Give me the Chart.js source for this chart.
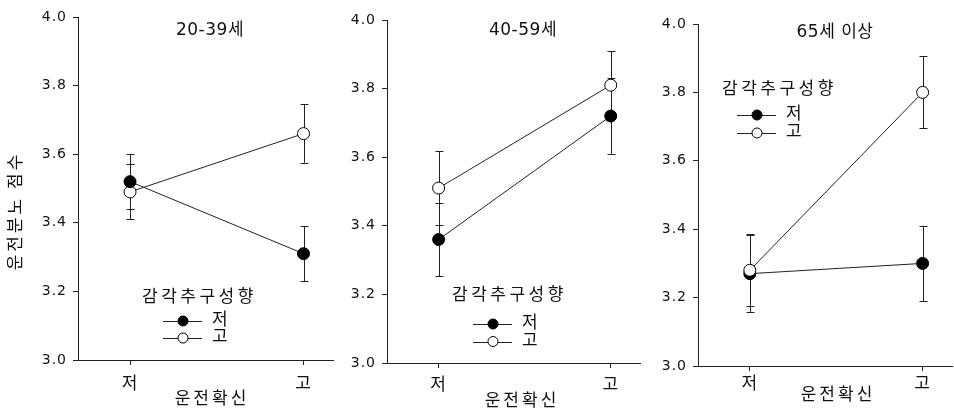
<!DOCTYPE html>
<html lang="ko">
<head>
  <meta charset="UTF-8" />
  <title>운전분노 점수</title>
  <script src="https://cdn.jsdelivr.net/npm/chart.js"></script>
  <style>
    body {
      margin: 0;
      background: #fff;
      overflow: hidden;
    }
    .wrap {
      position: relative;
      width: 954px;
      height: 412px;
    }
    canvas {
      position: absolute;
      top: 0;
    }
    #p1 { left: 0; }
    #p2 { left: 335px; }
    #p3 { left: 645px; }
  </style>
</head>
<body>
  <div class="wrap">
    <canvas id="p1" width="340" height="412"></canvas>
    <canvas id="p2" width="312" height="412"></canvas>
    <canvas id="p3" width="314" height="412"></canvas>
  </div>
  <script>
    // data
    const categories = ['저', '고'];            // 운전확신
    const ageGroups = ['20-39세', '40-59세', '65세 이상'];
    const seriesNames = ['저', '고'];           // 감각추구성향
    const lowMeans = [[3.52, 3.31], [3.36, 3.72], [3.27, 3.30]];
    const lowErrors = [[0.08, 0.08], [0.107, 0.11], [0.112, 0.11]];
    const highMeans = [[3.49, 3.66], [3.51, 3.81], [3.28, 3.80]];
    const highErrors = [[0.08, 0.085], [0.107, 0.10], [0.105, 0.105]];
    const yTicks = [3.0, 3.2, 3.4, 3.6, 3.8, 4.0];
    const yTitle = '운전분노 점수';
    const xTitle = '운전확신';
    const legendTitle = '감각추구성향';

    const KR = "'Noto Sans CJK KR', sans-serif";
    const NUM = "'DejaVu Sans', 'Noto Sans CJK KR', sans-serif";
    const INK = '#111';

    // layout of each panel (canvas coordinates)
    const panels = [
      { axisW: 78, top: 17, bottomH: 52, tickPad: 7, title: [210, 31], xTitle: [212, 398], yTitle: [15, 211],
        legend: { x: 142, y: 296, lineX: 163, rows: [321, 338] }, highOnTop: false },
      { axisW: 52, top: 20, bottomH: 49, tickPad: 5, title: [188, 31], xTitle: [187, 400], yTitle: null,
        legend: { x: 117, y: 294, lineX: 138, rows: [324, 341.5] }, highOnTop: false },
      { axisW: 53, top: 24, bottomH: 46, tickPad: 1, title: [190, 33], xTitle: [193, 394], yTitle: null,
        legend: { x: 77, y: 88, lineX: 92, rows: [115, 133] }, highOnTop: true }
    ];

    function spacedText(ctx, text, x, y, font, spacing, align) {
      ctx.save();
      ctx.font = font;
      ctx.letterSpacing = spacing + 'px';
      ctx.fillStyle = INK;
      ctx.textBaseline = 'middle';
      ctx.textAlign = align || 'left';
      ctx.fillText(text, x, y);
      ctx.restore();
    }

    const errorBars = {
      id: 'errorBars',
      beforeDatasetsDraw(chart) {
        const ctx = chart.ctx;
        const xs = chart.scales.x, ys = chart.scales.y;
        ctx.save();
        ctx.strokeStyle = '#222';
        ctx.lineWidth = 1;
        chart.data.datasets.forEach(ds => {
          ds.data.forEach((p, i) => {
            const err = ds.errors[i];
            const x = Math.round(xs.getPixelForValue(p.x)) + 0.5;
            const y0 = ys.getPixelForValue(p.y - err);
            const y1 = ys.getPixelForValue(p.y + err);
            ctx.beginPath();
            ctx.moveTo(x, y0); ctx.lineTo(x, y1);
            ctx.moveTo(x - 4, Math.round(y0) + 0.5); ctx.lineTo(x + 4, Math.round(y0) + 0.5);
            ctx.moveTo(x - 4, Math.round(y1) + 0.5); ctx.lineTo(x + 4, Math.round(y1) + 0.5);
            ctx.stroke();
          });
        });
        ctx.restore();
      }
    };

    const labels = {
      id: 'labels',
      beforeDraw(chart) {
        chart.ctx.letterSpacing = '1px';
      },
      afterDatasetsDraw(chart, args, opts) {
        const ctx = chart.ctx;
        const p = opts.panel;
        spacedText(ctx, opts.heading, p.title[0], p.title[1], '17px ' + NUM, 0.5, 'center');
        spacedText(ctx, xTitle, p.xTitle[0], p.xTitle[1], '17px ' + KR, 3, 'center');
        if (p.yTitle) {
          ctx.save();
          ctx.translate(p.yTitle[0], p.yTitle[1]);
          ctx.rotate(-Math.PI / 2);
          spacedText(ctx, yTitle, 0, 0, '17px ' + KR, 3, 'center');
          ctx.restore();
        }
        // legend, styled from the datasets
        const lg = p.legend;
        spacedText(ctx, legendTitle, lg.x, lg.y, '17px ' + KR, 3.5, 'left');
        chart.data.datasets.forEach((ds, i) => {
          const y = lg.rows[i];
          ctx.save();
          ctx.strokeStyle = ds.borderColor;
          ctx.lineWidth = 1;
          ctx.beginPath();
          ctx.moveTo(lg.lineX, Math.round(y) + 0.5);
          ctx.lineTo(lg.lineX + 39, Math.round(y) + 0.5);
          ctx.stroke();
          ctx.beginPath();
          ctx.arc(lg.lineX + 20, y, 5, 0, Math.PI * 2);
          ctx.fillStyle = ds.pointBackgroundColor;
          ctx.fill();
          ctx.strokeStyle = ds.pointBorderColor;
          ctx.stroke();
          ctx.restore();
          spacedText(ctx, ds.label, lg.lineX + 49, y - 2, '17px ' + KR, 0, 'left');
        });
      }
    };

    panels.forEach((p, g) => {
      const series = [
        { label: seriesNames[0], means: lowMeans[g], errors: lowErrors[g], fill: '#000' },
        { label: seriesNames[1], means: highMeans[g], errors: highErrors[g], fill: '#fff' }
      ];
      new Chart(document.getElementById('p' + (g + 1)), {
        type: 'line',
        data: {
          datasets: series.map((s, i) => ({
            label: s.label,
            data: s.means.map((v, j) => ({ x: j, y: v })),
            errors: s.errors,
            borderColor: '#222',
            borderWidth: 1,
            pointRadius: 6,
            pointBorderWidth: 1,
            pointBackgroundColor: s.fill,
            pointBorderColor: '#000',
            order: p.highOnTop ? 1 - i : i
          }))
        },
        options: {
          responsive: false,
          animation: false,
          devicePixelRatio: 1,
          layout: { padding: { top: p.top, right: 0, left: 0, bottom: 0 } },
          plugins: {
            legend: { display: false },
            tooltip: { enabled: false },
            labels: { panel: p, heading: ageGroups[g] }
          },
          scales: {
            x: {
              type: 'linear',
              min: -0.3,
              max: 1.17,
              afterBuildTicks: axis => { axis.ticks = categories.map((c, i) => ({ value: i })); },
              afterFit: axis => { axis.height = p.bottomH; },
              ticks: {
                callback: (v, i) => categories[i],
                color: INK,
                padding: p.tickPad,
                font: { family: KR, size: 17 }
              },
              grid: { display: true, drawOnChartArea: false, drawTicks: true, tickLength: 5, color: '#222' },
              border: { display: true, color: '#222', width: 1 }
            },
            y: {
              min: 3,
              max: 4,
              afterBuildTicks: axis => { axis.ticks = yTicks.map(v => ({ value: v })); },
              afterFit: axis => { axis.width = p.axisW; },
              ticks: {
                callback: v => v.toFixed(1),
                color: INK,
                padding: 6,
                font: { family: NUM, size: 14 }
              },
              grid: { display: true, drawOnChartArea: false, drawTicks: true, tickLength: 5, color: '#222' },
              border: { display: true, color: '#222', width: 1 }
            }
          }
        },
        plugins: [errorBars, labels]
      });
    });
  </script>
</body>
</html>
